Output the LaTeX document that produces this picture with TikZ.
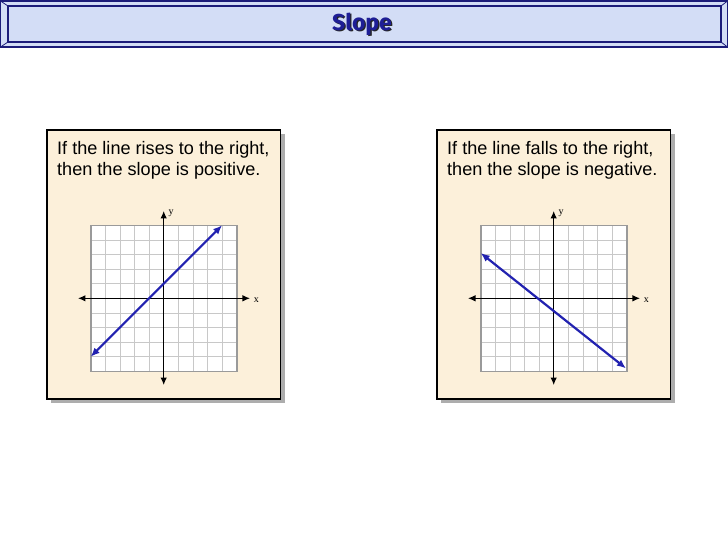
\documentclass[tikz,border=0pt]{standalone}
\usepackage{fontspec}
\setmainfont{Liberation Sans}
\newfontfamily\titlefont{Fira Sans}
\newfontfamily\axisfont{Liberation Serif}
\usetikzlibrary{arrows.meta}
\definecolor{bannerbg}{HTML}{D3DDF6}
\definecolor{bannerline}{HTML}{1C1C7A}
\definecolor{titleblue}{HTML}{1E1E96}
\definecolor{panelbg}{HTML}{FCF0DA}
\definecolor{shadowgrey}{HTML}{ADADAD}
\definecolor{gridline}{HTML}{C8C8C8}
\definecolor{gridframe}{HTML}{9A9A9A}
\definecolor{lineblue}{HTML}{2222B0}
\tikzset{
  panelbox/.style={draw=black, line width=1.2pt, fill=panelbg},
  panelshadow/.style={fill=shadowgrey},
  paneltext/.style={anchor=base west, align=left, inner sep=0pt,
    font=\fontsize{18.1}{20.7}\selectfont},
  axisline/.style={line width=1.1pt, {Latex[length=7.5pt,width=6.5pt]}-{Latex[length=7.5pt,width=6.5pt]}},
  slopeline/.style={draw=lineblue, line width=2.2pt, {Latex[length=9pt,width=7.5pt]}-{Latex[length=9pt,width=7.5pt]}},
  axislabel/.style={inner sep=0pt, font=\axisfont\fontsize{10}{10}\selectfont},
}
\begin{document}
\begin{tikzpicture}[x={(1pt,0)}, y={(0,-1pt)}]
\useasboundingbox (0,0) rectangle (728,546);
\fill[white] (0,0) rectangle (728,546);
% banner
\fill[bannerbg] (0.5,1) rectangle (727.5,47);
\draw[bannerline, line width=1.4pt] (0.5,1) rectangle (727.5,47);
\draw[bannerline, line width=1.4pt] (8,6) rectangle (721,42);
\draw[bannerline, line width=0.8pt] (0.5,1) -- (8,6) (727.5,1) -- (721,6)
  (0.5,47) -- (8,42) (727.5,47) -- (721,42);
\node[text=black!85, font=\titlefont\bfseries\fontsize{23}{26}\selectfont, inner sep=0pt] at (363.3,25.3) {Slope};
\node (title)[text=titleblue, font=\titlefont\bfseries\fontsize{23}{26}\selectfont, inner sep=0pt] at (362,24) {Slope};
% panels
\foreach \dx/\nm/\ta/\tb/\ax/\ay/\bx/\by in
  {0/L/{If the line rises to the right,}/{then the slope is positive.}/-5/-4/4/5,
   390/R/{If the line falls to the right,}/{then the slope is negative.}/-5/3.1/4.95/-4.8}{
  \begin{scope}[xshift=\dx pt]
    \fill[panelshadow] (51,134) rectangle (285,403);
    \draw[panelbox] (47,130) rectangle (280.5,399);
    \node[paneltext] (txt\nm) at (57,175.2) {\ta\\\tb};
    \begin{scope}[shift={(163.7,298.3)}, x={(14.6pt,0)}, y={(0,14.6pt)}]
      \fill[white] (-5,-5) rectangle (5,5);
      \foreach \k in {-4,...,4}{
        \draw[gridline, line width=0.7pt] (\k,-5) -- (\k,5);
        \draw[gridline, line width=0.7pt] (-5,\k) -- (5,\k);
      }
      \draw[gridframe, line width=1.6pt] (-5,-5) rectangle (5,5);
      \coordinate (xl\nm) at (-5.87,0);
      \coordinate (xr\nm) at (5.91,0);
      \coordinate (yt\nm) at (0,5.98);
      \coordinate (yb\nm) at (0,-5.94);
      \coordinate (la\nm) at (\ax,\ay);
      \coordinate (lb\nm) at (\bx,\by);
      \draw[axisline] (xl\nm) -- (xr\nm);
      \draw[axisline] (yb\nm) -- (yt\nm);
      \node[axislabel] (xlab\nm) at (6.35,-0.12) {x};
      \node[axislabel] (ylab\nm) at (0.5,5.85) {y};
      \draw[slopeline] (la\nm) -- (lb\nm);
    \end{scope}
  \end{scope}
}
\end{tikzpicture}
\end{document}
